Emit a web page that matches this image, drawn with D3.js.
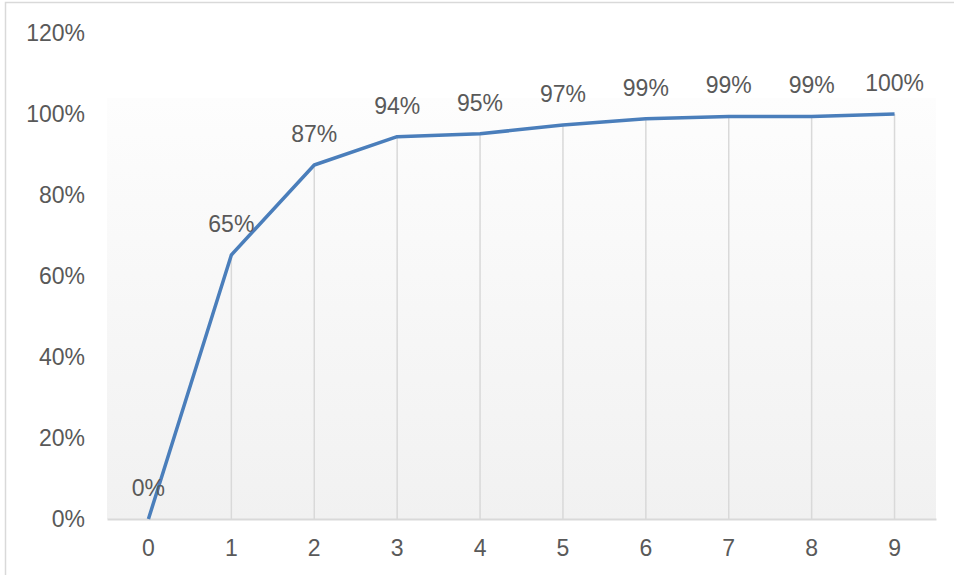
<!DOCTYPE html>
<html>
<head>
<meta charset="utf-8">
<script src="https://cdn.jsdelivr.net/npm/d3@7"></script>
<style>
  body { margin: 0; background: #fff; }
  text { font-family: "Liberation Sans", Arial, sans-serif; fill: #595959; }
</style>
</head>
<body>
<script>
// chart data
const categories = ["0", "1", "2", "3", "4", "5", "6", "7", "8", "9"]
const values = [0, 65.2, 87.4, 94.4, 95.1, 97.3, 98.8, 99.4, 99.4, 100]
const labels = ["0%", "65%", "87%", "94%", "95%", "97%", "99%", "99%", "99%", "100%"]
const yTicks = [0, 20, 40, 60, 80, 100, 120]

const w = 954
const h = 575
const padLeft = 107, padRight = 936, padTop = 33, padBottom = 519
const fs = 23

const svg = d3.select("body")
    .append("svg")
    .attr("width", w)
    .attr("height", h)

// outer chart border
svg.append("rect")
    .attr("x", 5.5).attr("y", 2.5)
    .attr("width", w + 10).attr("height", h + 10)
    .attr("fill", "#fff")
    .attr("stroke", "#d9d9d9")
    .attr("stroke-width", 1.5)

const x = d3.scaleBand().domain(categories).range([padLeft, padRight])
const y = d3.scaleLinear().domain([0, 120]).range([padBottom, padTop])
const cx = (d) => x(d) + x.bandwidth() / 2

// plot area gradient
const grad = svg.append("defs").append("linearGradient")
    .attr("id", "bg").attr("x1", 0).attr("y1", 0).attr("x2", 0).attr("y2", 1)
grad.append("stop").attr("offset", "0%").attr("stop-color", "#fdfdfd")
grad.append("stop").attr("offset", "100%").attr("stop-color", "#f1f1f1")

svg.append("rect")
    .attr("x", padLeft).attr("y", y(104))
    .attr("width", padRight - padLeft).attr("height", padBottom - y(104))
    .attr("fill", "url(#bg)")

// drop lines
svg.selectAll("line.drop")
    .data(categories)
    .enter()
    .append("line")
    .attr("class", "drop")
    .attr("x1", (d) => cx(d)).attr("x2", (d) => cx(d))
    .attr("y1", (d, i) => y(values[i])).attr("y2", padBottom)
    .attr("stroke", "#d9d9d9")
    .attr("stroke-width", 1.5)

// x axis
const xAxis = svg.append("g")
    .attr("transform", `translate(0,${padBottom})`)
    .call(d3.axisBottom(x).tickSize(0).tickPadding(21))
xAxis.select(".domain").attr("stroke", "#d9d9d9").attr("stroke-width", 2)
xAxis.selectAll("text").attr("font-size", fs).attr("fill", "#595959")
    .attr("font-family", "Liberation Sans, Arial, sans-serif")

// y axis
const yAxis = svg.append("g")
    .attr("transform", `translate(85,0)`)
    .call(d3.axisLeft(y).tickValues(yTicks).tickSize(0).tickPadding(0).tickFormat((d) => d + "%"))
yAxis.select(".domain").remove()
yAxis.selectAll("text").attr("font-size", fs).attr("fill", "#595959")
    .attr("font-family", "Liberation Sans, Arial, sans-serif")

// series line
const line = d3.line()
    .x((d, i) => cx(categories[i]))
    .y((d) => y(d))
svg.append("path")
    .datum(values)
    .attr("d", line)
    .attr("fill", "none")
    .attr("stroke", "#4a7ebb")
    .attr("stroke-width", 3.5)
    .attr("stroke-linejoin", "round")

// data labels
svg.selectAll("text.lbl")
    .data(values)
    .enter()
    .append("text")
    .attr("class", "lbl")
    .attr("x", (d, i) => cx(categories[i]))
    .attr("y", (d) => y(d) - 23)
    .attr("text-anchor", "middle")
    .attr("font-size", fs)
    .text((d, i) => labels[i])
</script>
</body>
</html>
